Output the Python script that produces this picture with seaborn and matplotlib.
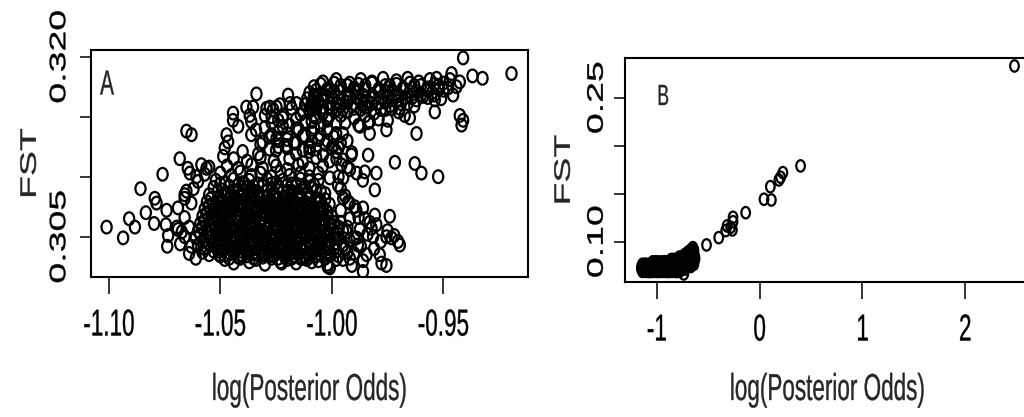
import matplotlib
matplotlib.use("Agg")
import matplotlib.pyplot as plt
import pandas as pd
import seaborn as sns
from matplotlib.path import Path
from matplotlib.transforms import Affine2D
from matplotlib.patheffects import AbstractPathEffect

# ---------------- Panel A data: (log posterior odds, FST) ----------------
a_left = [(-1.1010, .3058), (-1.0936, .3049), (-1.0909, .3065), (-1.0883, .3058), (-1.0858, .3090),
          (-1.0834, .3070), (-1.0794, .3082), (-1.0786, .3078), (-1.0797, .3061), (-1.0759, .3102),
          (-1.0741, .3072), (-1.0744, .3060), (-1.0734, .3051), (-1.0738, .3042), (-1.0682, .3115),
          (-1.0652, .3138), (-1.0629, .3135), (-1.0690, .3074), (-1.0695, .3058), (-1.0673, .3054),
          (-1.0660, .3082), (-1.0652, .3088), (-1.0646, .3107), (-1.0637, .3103), (-1.0607, .3100),
          (-1.0585, .3110), (-1.0562, .3107), (-1.066, .3085), (-1.063, .3078), (-1.066, .3066),
          (-1.064, .3058), (-1.066, .3050), (-1.063, .3042), (-1.068, .3044), (-1.064, .3036),
          (-1.061, .3032), (-1.069, .3056), (-1.062, .3090), (-1.060, .3096), (-1.057, .3102),
          (-1.055, .3108)]

a_blob = [
    (-1.048, .3031), (-1.044, .3028), (-1.041, .3032), (-1.037, .3029), (-1.034, .3031), (-1.030, .3027),
    (-1.027, .3032), (-1.023, .3029), (-1.020, .3031), (-1.016, .3028), (-1.013, .3032), (-1.009, .3029),
    (-1.006, .3030), (-1.002, .3027), (-0.998, .3031),
    (-1.058, .3037), (-1.055, .3035), (-1.051, .3038), (-1.047, .3035), (-1.044, .3037), (-1.040, .3034),
    (-1.037, .3038), (-1.033, .3035), (-1.030, .3037), (-1.026, .3034), (-1.022, .3038), (-1.019, .3036),
    (-1.015, .3037), (-1.012, .3034), (-1.008, .3038), (-1.005, .3035), (-1.001, .3037), (-0.997, .3034),
    (-0.993, .3037),
    (-1.060, .3043), (-1.056, .3041), (-1.053, .3044), (-1.049, .3041), (-1.046, .3043), (-1.042, .3040),
    (-1.039, .3044), (-1.035, .3041), (-1.031, .3043), (-1.028, .3040), (-1.024, .3044), (-1.021, .3042),
    (-1.017, .3043), (-1.014, .3040), (-1.010, .3044), (-1.007, .3041), (-1.003, .3043), (-0.999, .3040),
    (-0.995, .3043),
    (-1.061, .3049), (-1.057, .3047), (-1.054, .3050), (-1.050, .3047), (-1.047, .3049), (-1.043, .3046),
    (-1.040, .3050), (-1.036, .3047), (-1.033, .3049), (-1.029, .3046), (-1.026, .3050), (-1.022, .3048),
    (-1.018, .3049), (-1.015, .3046), (-1.011, .3050), (-1.008, .3047), (-1.004, .3049), (-1.001, .3046),
    (-0.997, .3049), (-0.992, .3047),
    (-1.060, .3055), (-1.056, .3053), (-1.052, .3056), (-1.049, .3053), (-1.045, .3055), (-1.042, .3052),
    (-1.038, .3056), (-1.035, .3053), (-1.031, .3055), (-1.027, .3052), (-1.024, .3056), (-1.020, .3054),
    (-1.017, .3055), (-1.013, .3052), (-1.010, .3056), (-1.006, .3053), (-1.003, .3055), (-0.999, .3052),
    (-0.995, .3055),
    (-1.059, .3061), (-1.055, .3059), (-1.051, .3062), (-1.048, .3059), (-1.044, .3061), (-1.041, .3058),
    (-1.037, .3062), (-1.034, .3059), (-1.030, .3061), (-1.026, .3058), (-1.023, .3062), (-1.019, .3060),
    (-1.016, .3061), (-1.012, .3058), (-1.009, .3062), (-1.005, .3059), (-1.001, .3061), (-0.997, .3058),
    (-1.058, .3067), (-1.054, .3065), (-1.050, .3068), (-1.047, .3065), (-1.043, .3067), (-1.039, .3064),
    (-1.036, .3068), (-1.032, .3065), (-1.029, .3067), (-1.025, .3064), (-1.022, .3068), (-1.018, .3066),
    (-1.015, .3067), (-1.011, .3064), (-1.007, .3068), (-1.004, .3065), (-1.000, .3067),
    (-1.057, .3073), (-1.053, .3071), (-1.049, .3074), (-1.046, .3071), (-1.042, .3073), (-1.038, .3070),
    (-1.035, .3074), (-1.031, .3071), (-1.028, .3073), (-1.024, .3070), (-1.021, .3074), (-1.017, .3072),
    (-1.013, .3073), (-1.010, .3070), (-1.006, .3074), (-1.002, .3071),
    (-1.056, .3079), (-1.052, .3077), (-1.049, .3080), (-1.045, .3077), (-1.041, .3079), (-1.038, .3076),
    (-1.034, .3080), (-1.030, .3077), (-1.027, .3079), (-1.023, .3076), (-1.020, .3080), (-1.016, .3078),
    (-1.012, .3079), (-1.009, .3076), (-1.005, .3080), (-1.001, .3077),
    (-1.055, .3085), (-1.051, .3083), (-1.047, .3086), (-1.044, .3083), (-1.040, .3085), (-1.036, .3082),
    (-1.033, .3086), (-1.029, .3083), (-1.026, .3085), (-1.022, .3082), (-1.018, .3086), (-1.015, .3084),
    (-1.011, .3085), (-1.007, .3082), (-1.003, .3086),
    (-1.053, .3091), (-1.049, .3089), (-1.046, .3092), (-1.042, .3089), (-1.038, .3091), (-1.035, .3088),
    (-1.031, .3092), (-1.027, .3089), (-1.024, .3091), (-1.020, .3088), (-1.016, .3092), (-1.013, .3090),
    (-1.009, .3091), (-1.005, .3088),
    (-1.052, .3097), (-1.048, .3095), (-1.044, .3098), (-1.040, .3095), (-1.037, .3097), (-1.033, .3094),
    (-1.029, .3098), (-1.025, .3095), (-1.022, .3097), (-1.018, .3094), (-1.014, .3098), (-1.010, .3096),
    (-1.006, .3097),
    (-1.050, .3103), (-1.045, .3101), (-1.041, .3104), (-1.036, .3101), (-1.032, .3103), (-1.027, .3100),
    (-1.023, .3104), (-1.019, .3101), (-1.014, .3103), (-1.010, .3100), (-1.006, .3103),
    (-1.047, .3109), (-1.042, .3107), (-1.036, .3110), (-1.031, .3107), (-1.025, .3109), (-1.020, .3106),
    (-1.015, .3110), (-1.010, .3107), (-1.004, .3109),
    (-1.044, .3115), (-1.038, .3113), (-1.032, .3116), (-1.026, .3113), (-1.019, .3115), (-1.013, .3112),
    (-1.007, .3116), (-1.001, .3113),
    (-1.040, .3121), (-1.033, .3119), (-1.025, .3122), (-1.016, .3119), (-1.010, .3121), (-1.004, .3118),
    (-0.998, .3121),
    (-1.0018, .3025), (-1.0112, .3031), (-1.018, .3032), (-1.0225, .3028)]

a_blob_fill = [
    (-1.050, .3034), (-1.046, .3032), (-1.042, .3033), (-1.038, .3034), (-1.035, .3032), (-1.031, .3033),
    (-1.028, .3034), (-1.024, .3032), (-1.021, .3033), (-1.017, .3034), (-1.014, .3032), (-1.010, .3033),
    (-1.007, .3034), (-1.003, .3032),
    (-1.057, .3040), (-1.053, .3038), (-1.049, .3039), (-1.045, .3040), (-1.041, .3038), (-1.038, .3039),
    (-1.034, .3040), (-1.031, .3038), (-1.027, .3039), (-1.024, .3040), (-1.020, .3038), (-1.016, .3039),
    (-1.013, .3040), (-1.009, .3038), (-1.006, .3039), (-1.002, .3040), (-0.998, .3038),
    (-1.058, .3046), (-1.055, .3044), (-1.051, .3045), (-1.048, .3046), (-1.044, .3044), (-1.041, .3045),
    (-1.037, .3046), (-1.033, .3044), (-1.030, .3045), (-1.027, .3046), (-1.023, .3044), (-1.019, .3045),
    (-1.016, .3046), (-1.012, .3044), (-1.009, .3045), (-1.005, .3046), (-1.002, .3044), (-0.998, .3045),
    (-1.059, .3052), (-1.055, .3050), (-1.052, .3051), (-1.048, .3052), (-1.045, .3050), (-1.041, .3051),
    (-1.038, .3052), (-1.034, .3050), (-1.031, .3051), (-1.028, .3052), (-1.025, .3050), (-1.021, .3051),
    (-1.019, .3052), (-1.016, .3050), (-1.012, .3051), (-1.009, .3052), (-1.005, .3050), (-1.002, .3051),
    (-0.997, .3052),
    (-1.058, .3058), (-1.054, .3056), (-1.050, .3057), (-1.047, .3058), (-1.043, .3056), (-1.040, .3057),
    (-1.036, .3058), (-1.033, .3056), (-1.029, .3057), (-1.025, .3058), (-1.022, .3056), (-1.018, .3057),
    (-1.015, .3058), (-1.011, .3056), (-1.008, .3057), (-1.004, .3058), (-1.001, .3056), (-0.997, .3057),
    (-1.057, .3064), (-1.053, .3062), (-1.049, .3063), (-1.046, .3064), (-1.042, .3062), (-1.039, .3063),
    (-1.035, .3064), (-1.032, .3062), (-1.028, .3063), (-1.024, .3064), (-1.021, .3062), (-1.017, .3063),
    (-1.014, .3064), (-1.010, .3062), (-1.007, .3063), (-1.003, .3064), (-0.999, .3062),
    (-1.056, .3070), (-1.052, .3068), (-1.048, .3069), (-1.045, .3070), (-1.041, .3068), (-1.037, .3069),
    (-1.034, .3070), (-1.030, .3068), (-1.027, .3069), (-1.023, .3070), (-1.020, .3068), (-1.016, .3069),
    (-1.013, .3070), (-1.009, .3068), (-1.005, .3069), (-1.002, .3070),
    (-1.055, .3076), (-1.051, .3074), (-1.047, .3075), (-1.044, .3076), (-1.040, .3074), (-1.036, .3075),
    (-1.033, .3076), (-1.029, .3074), (-1.026, .3075), (-1.022, .3076), (-1.019, .3074), (-1.015, .3075),
    (-1.011, .3076), (-1.008, .3074), (-1.004, .3075),
    (-1.054, .3082), (-1.050, .3080), (-1.046, .3081), (-1.043, .3082), (-1.039, .3080), (-1.035, .3081),
    (-1.032, .3082), (-1.028, .3080), (-1.025, .3081), (-1.021, .3082), (-1.017, .3080), (-1.014, .3081),
    (-1.010, .3082), (-1.006, .3080), (-1.003, .3081),
    (-1.051, .3088), (-1.048, .3086), (-1.044, .3087), (-1.040, .3088), (-1.037, .3086), (-1.033, .3087),
    (-1.029, .3088), (-1.026, .3086), (-1.022, .3087), (-1.018, .3088), (-1.015, .3086), (-1.011, .3087),
    (-1.007, .3088),
    (-1.050, .3094), (-1.046, .3092), (-1.042, .3093), (-1.039, .3094), (-1.035, .3092), (-1.031, .3093),
    (-1.027, .3094), (-1.024, .3092), (-1.020, .3093), (-1.016, .3094), (-1.012, .3092), (-1.008, .3093)]

a_blob_core = [
    (-1.0505, .3035), (-1.0455, .3036), (-1.0405, .3035), (-1.0355, .3036), (-1.0305, .3035), (-1.0255, .3036),
    (-1.0205, .3035), (-1.0155, .3036), (-1.0105, .3035), (-1.0055, .3036), (-1.0005, .3035),
    (-1.0515, .3041), (-1.0465, .3042), (-1.0415, .3041), (-1.0365, .3042), (-1.0315, .3041), (-1.0265, .3042),
    (-1.0215, .3041), (-1.0165, .3042), (-1.0115, .3041), (-1.0065, .3042), (-1.0015, .3041),
    (-1.0505, .3047), (-1.0455, .3048), (-1.0405, .3047), (-1.0355, .3048), (-1.0305, .3047), (-1.0255, .3048),
    (-1.0205, .3047), (-1.0155, .3048), (-1.0105, .3047), (-1.0055, .3048), (-1.0005, .3047),
    (-1.0515, .3053), (-1.0465, .3054), (-1.0415, .3053), (-1.0365, .3054), (-1.0315, .3053), (-1.0265, .3054),
    (-1.0215, .3053), (-1.0165, .3054), (-1.0115, .3053), (-1.0065, .3054), (-1.0015, .3053),
    (-1.0505, .3059), (-1.0455, .3060), (-1.0405, .3059), (-1.0355, .3060), (-1.0305, .3059), (-1.0255, .3060),
    (-1.0205, .3059), (-1.0155, .3060), (-1.0105, .3059), (-1.0055, .3060), (-1.0005, .3059),
    (-1.0515, .3065), (-1.0465, .3066), (-1.0415, .3065), (-1.0365, .3066), (-1.0315, .3065), (-1.0265, .3066),
    (-1.0215, .3065), (-1.0165, .3066), (-1.0115, .3065), (-1.0065, .3066), (-1.0015, .3065),
    (-1.0505, .3071), (-1.0455, .3072), (-1.0405, .3071), (-1.0355, .3072), (-1.0305, .3071), (-1.0255, .3072),
    (-1.0205, .3071), (-1.0155, .3072), (-1.0105, .3071), (-1.0055, .3072),
    (-1.0465, .3078), (-1.0415, .3077), (-1.0365, .3078), (-1.0315, .3077), (-1.0265, .3078),
    (-1.0215, .3077), (-1.0165, .3078), (-1.0115, .3077), (-1.0065, .3078),
    (-1.0455, .3084), (-1.0405, .3083), (-1.0355, .3084), (-1.0305, .3083), (-1.0255, .3084),
    (-1.0205, .3083), (-1.0155, .3084), (-1.0105, .3083)]

a_mid = [(-1.032, .3127), (-1.024, .3125), (-1.017, .3128), (-1.010, .3125), (-1.003, .3127), (-0.997, .3124),
         (-1.028, .3133), (-1.020, .3131), (-1.013, .3134), (-1.006, .3131), (-0.999, .3133), (-0.993, .3130),
         (-1.034, .3139), (-1.024, .3137), (-1.016, .3140), (-1.009, .3137), (-1.002, .3139), (-0.995, .3136),
         (-1.027, .3145), (-1.019, .3143), (-1.012, .3146), (-1.005, .3143), (-0.998, .3145),
         (-1.030, .3151), (-1.022, .3149), (-1.014, .3152), (-1.007, .3149), (-1.001, .3151),
         (-1.018, .3157), (-1.010, .3155), (-1.004, .3158),
         (-1.028, .3123), (-1.020, .3124), (-1.013, .3122), (-1.007, .3123), (-1.000, .3124),
         (-1.031, .3129), (-1.024, .3130), (-1.016, .3128), (-1.009, .3129), (-1.002, .3130), (-0.996, .3128),
         (-1.027, .3135), (-1.020, .3136), (-1.012, .3134), (-1.005, .3135), (-0.998, .3136),
         (-1.030, .3141), (-1.022, .3142), (-1.015, .3140), (-1.008, .3141),
         (-1.024, .3147), (-1.016, .3148), (-1.009, .3146), (-1.002, .3147),
         (-1.0293, .3157), (-1.0270, .3150), (-1.0248, .3158), (-1.0218, .3151), (-1.0196, .3168),
         (-1.0158, .3161), (-1.0084, .3160), (-1.0069, .3168), (-1.0248, .3132), (-1.0203, .3126),
         (-1.0099, .3124),
         (-1.0338, .3169), (-1.0383, .3158), (-1.0353, .3158), (-1.0368, .3151), (-1.0361, .3146),
         (-1.0361, .3135), (-1.0443, .3153), (-1.0443, .3147), (-1.0420, .3142), (-1.0472, .3135),
         (-1.0465, .3129), (-1.0480, .3124), (-1.0487, .3117), (-1.0278, .3158), (-1.0263, .3156),
         (-1.0233, .3160), (-1.0188, .3161), (-1.0128, .3154), (-1.0091, .3158)]

a_band = [(-1.004, .3179), (-0.998, .3181), (-0.992, .3178), (-0.987, .3181), (-0.982, .3179), (-0.977, .3182),
          (-0.971, .3180), (-0.966, .3182), (-0.961, .3179), (-0.956, .3181), (-0.950, .3178), (-0.947, .3181),
          (-1.008, .3175), (-1.002, .3173), (-0.996, .3176), (-0.990, .3174), (-0.985, .3176), (-0.979, .3173),
          (-0.974, .3176), (-0.968, .3174), (-0.963, .3176), (-0.957, .3174), (-0.952, .3176),
          (-1.010, .3170), (-1.004, .3168), (-0.999, .3171), (-0.993, .3169), (-0.988, .3171), (-0.982, .3168),
          (-0.976, .3171), (-0.971, .3169), (-0.965, .3171), (-0.960, .3168), (-0.955, .3170), (-0.950, .3172),
          (-1.011, .3165), (-1.006, .3163), (-1.000, .3166), (-0.995, .3164), (-0.989, .3166), (-0.984, .3163),
          (-0.978, .3166), (-0.973, .3164), (-0.967, .3166), (-0.962, .3164), (-0.957, .3166), (-0.951, .3165),
          (-1.012, .3160), (-1.007, .3158), (-1.001, .3161), (-0.996, .3159), (-0.990, .3161), (-0.985, .3158),
          (-0.979, .3161), (-0.974, .3159), (-0.969, .3161), (-0.963, .3159),
          (-1.010, .3155), (-1.004, .3153), (-0.998, .3156), (-0.993, .3154), (-0.987, .3156), (-0.981, .3153),
          (-0.976, .3156), (-0.970, .3154),
          (-1.008, .3150), (-1.002, .3148), (-0.996, .3151), (-0.990, .3149), (-0.985, .3151), (-0.979, .3148),
          (-0.994, .3145), (-0.988, .3143), (-0.983, .3146),
          (-1.005, .3177), (-0.999, .3178), (-0.993, .3176), (-0.988, .3177), (-0.982, .3178), (-0.976, .3176),
          (-0.971, .3177), (-0.965, .3178), (-0.960, .3176), (-0.954, .3177),
          (-1.007, .3172), (-1.001, .3173), (-0.996, .3171), (-0.990, .3172), (-0.985, .3173), (-0.979, .3171),
          (-0.973, .3172), (-0.968, .3173), (-0.962, .3171), (-0.957, .3172), (-0.952, .3173),
          (-1.008, .3167), (-1.003, .3168), (-0.997, .3166), (-0.992, .3167), (-0.986, .3168), (-0.981, .3166),
          (-0.975, .3167), (-0.970, .3168), (-0.964, .3166), (-0.959, .3167), (-0.954, .3168),
          (-1.009, .3162), (-1.004, .3163), (-0.998, .3161), (-0.993, .3162), (-0.987, .3163), (-0.982, .3161),
          (-0.976, .3162), (-0.971, .3163), (-0.966, .3161),
          (-1.007, .3157), (-1.001, .3158), (-0.995, .3156), (-0.990, .3157), (-0.984, .3158), (-0.978, .3156),
          (-0.973, .3157),
          (-0.9411, .3199), (-0.9369, .3184), (-0.9324, .3182), (-0.9194, .3186), (-0.9463, .3186),
          (-0.9426, .3179), (-0.9441, .3175), (-0.9456, .3168), (-0.9478, .3174), (-0.9426, .3151),
          (-0.9411, .3147), (-0.9418, .3143), (-0.9538, .3154), (-0.9530, .3182), (-0.9538, .3164)]

a_right = [(-0.9830, .3136), (-0.9837, .3118), (-0.9717, .3112), (-0.9620, .3136), (-0.9628, .3111),
           (-0.9598, .3103), (-0.9523, .3100), (-0.9800, .3103), (-0.9807, .3089), (-0.9861, .3097),
           (-0.9852, .3104), (-0.9889, .3103), (-0.9912, .3118), (-0.9919, .3106), (-0.9749, .3147),
           (-0.9755, .3139), (-0.9994, .3126), (-0.9979, .3115), (-0.9957, .3110), (-0.9949, .3099),
           (-1.0009, .3099), (-0.9972, .3093), (-0.9927, .3079), (-0.9897, .3075), (-0.9949, .3082),
           (-0.996, .3090), (-0.994, .3084), (-0.997, .3100), (-0.993, .3108), (-0.995, .3114),
           (-0.991, .3120), (-0.9695, .3157), (-0.9650, .3149), (-0.9673, .3151), (-0.9874, .3142),
           (-0.9837, .3145),
           (-0.9860, .3074), (-0.9852, .3065), (-0.9807, .3068), (-0.9800, .3060), (-0.9815, .3050),
           (-0.9740, .3067), (-0.9732, .3049), (-0.9703, .3046), (-0.9695, .3043), (-0.9755, .3050),
           (-0.9785, .3035), (-0.9777, .3028), (-0.9755, .3026), (-0.9844, .3035), (-0.9860, .3021),
           (-0.9822, .3057), (-0.9874, .3056), (-0.9889, .3049), (-0.9919, .3065), (-0.9934, .3054),
           (-0.9949, .3043), (-1.0009, .3024), (-0.9919, .3032), (-0.9883, .3043),
           (-0.996, .3062), (-0.993, .3058), (-0.990, .3049), (-0.994, .3040), (-0.990, .3036),
           (-0.987, .3042), (-0.986, .3030), (-0.991, .3026), (-0.995, .3031), (-0.988, .3066),
           (-0.983, .3062), (-0.984, .3052), (-0.978, .3046), (-0.981, .3040), (-0.975, .3055),
           (-0.972, .3051), (-0.989, .3072), (-0.996, .3072), (-0.992, .3078)]

# ---------------- Panel B data ----------------
b_blob = [(-1.14, .0690), (-1.11, .0691), (-1.08, .0689), (-1.05, .0690), (-1.02, .0691), (-0.99, .0689),
          (-0.96, .0690), (-0.93, .0691), (-0.90, .0689), (-0.87, .0690), (-0.84, .0691), (-0.81, .0689),
          (-0.78, .0690),
          (-1.15, .0715), (-1.12, .0716), (-1.09, .0714), (-1.06, .0715), (-1.03, .0716), (-1.00, .0714),
          (-0.97, .0715), (-0.94, .0716), (-0.91, .0714), (-0.88, .0715), (-0.85, .0716), (-0.82, .0714),
          (-0.79, .0715), (-0.76, .0716), (-0.73, .0714),
          (-1.15, .0740), (-1.12, .0741), (-1.09, .0739), (-1.06, .0740), (-1.03, .0741), (-1.00, .0739),
          (-0.97, .0740), (-0.94, .0741), (-0.91, .0739), (-0.88, .0740), (-0.85, .0741), (-0.82, .0739),
          (-0.79, .0740), (-0.76, .0741), (-0.73, .0739), (-0.70, .0740), (-0.67, .0741),
          (-1.14, .0765), (-1.11, .0766), (-1.08, .0764), (-1.05, .0765), (-1.02, .0766), (-0.99, .0764),
          (-0.96, .0765), (-0.93, .0766), (-0.90, .0764), (-0.87, .0765), (-0.84, .0766), (-0.81, .0764),
          (-0.78, .0765), (-0.75, .0766), (-0.72, .0764), (-0.69, .0765), (-0.66, .0766), (-0.64, .0764),
          (-1.04, .0790), (-1.01, .0791), (-0.98, .0789), (-0.95, .0790), (-0.92, .0791), (-0.89, .0789),
          (-0.86, .0790), (-0.83, .0791), (-0.80, .0789), (-0.77, .0790), (-0.74, .0791), (-0.71, .0789),
          (-0.68, .0790), (-0.65, .0791),
          (-0.86, .0815), (-0.83, .0816), (-0.80, .0814), (-0.77, .0815), (-0.74, .0816), (-0.71, .0814),
          (-0.68, .0815), (-0.65, .0816), (-0.63, .0814),
          (-0.78, .0840), (-0.75, .0841), (-0.72, .0839), (-0.69, .0840), (-0.66, .0841), (-0.63, .0839),
          (-0.73, .0865), (-0.70, .0866), (-0.67, .0864), (-0.64, .0865),
          (-0.70, .0890), (-0.67, .0891), (-0.64, .0889),
          (-0.67, .0915), (-0.64, .0914),
          (-0.65, .0938)]

b_tail = [(-0.738, .0664), (-0.517, .0966), (-0.398, .1042), (-0.330, .1115), (-0.317, .1164),
          (-0.282, .1150), (-0.259, .1208), (-0.259, .1254), (-0.265, .1122), (-0.136, .1302),
          (0.042, .1442), (0.104, .1573), (0.114, .1434), (0.187, .1643), (0.204, .1671),
          (0.226, .1719), (0.398, .1789), (2.479, .2830)]

a_xticks = [-1.10, -1.05, -1.00, -0.95]
a_xticklabels = ["-1.10", "-1.05", "-1.00", "-0.95"]
a_yticks = [0.305, 0.310, 0.315, 0.320]
a_yticklabels = ["0.305", "", "", "0.320"]
b_xticks = [-1, 0, 1, 2]
b_xticklabels = ["-1", "0", "1", "2"]
b_yticks = [0.10, 0.15, 0.20, 0.25]
b_yticklabels = ["0.10", "", "", "0.25"]


class Squeeze(AbstractPathEffect):
    """Draw text glyphs compressed horizontally about their centre (slightly emboldened)."""
    def __init__(self, sx=0.6, stroke=0.25):
        super().__init__()
        self.sx = sx
        self.stroke = stroke

    def draw_path(self, renderer, gc, tpath, affine, rgbFace=None):
        ext = tpath.get_extents(affine)
        cx = 0.5 * (ext.x0 + ext.x1)
        aff = affine + Affine2D().translate(-cx, 0).scale(self.sx, 1.0).translate(cx, 0)
        gc0 = renderer.new_gc()
        gc0.copy_properties(gc)
        gc0.set_linewidth(self.stroke)
        if rgbFace is not None:
            gc0.set_foreground(rgbFace)
        renderer.draw_path(gc0, tpath, aff, rgbFace)
        gc0.restore()


sns.set_theme(style="white")
plt.rcParams["font.family"] = ["Liberation Sans", "DejaVu Sans"]
plt.rcParams["axes.unicode_minus"] = False

W, H = 1024, 417
fig = plt.figure(figsize=(W / 100, H / 100), dpi=100, facecolor="white")
axA = fig.add_axes([91 / W, 1 - 277 / H, 437 / W, 227 / H])
axB = fig.add_axes([625 / W, 1 - 282 / H, 405 / W, 224 / H])

circ = Path.unit_circle()
ellA = Path(Affine2D().scale(0.8, 1.0).transform(circ.vertices), circ.codes)
ellB = Path(Affine2D().scale(0.75, 1.0).transform(circ.vertices), circ.codes)

dfA = pd.DataFrame(a_left + a_blob + a_blob_fill + a_blob_core + a_mid + a_band + a_right,
                   columns=["lpo", "fst"])
dfB = pd.DataFrame(b_blob + b_tail, columns=["lpo", "fst"])

sns.scatterplot(data=dfA, x="lpo", y="fst", ax=axA, marker=ellA, s=84,
                facecolor="none", edgecolor="black", linewidth=1.6, legend=False)
sns.scatterplot(data=dfB, x="lpo", y="fst", ax=axB, marker=ellB, s=68,
                facecolor="none", edgecolor="black", linewidth=1.6, legend=False)

FS = 27
sq = [Squeeze(0.6, 0.25)]

axA.set_xlim(-1.108, -0.912)
axA.set_ylim(0.30164, 0.32056)
axB.set_xlim(-1.31, 2.63)
axB.set_ylim(0.058, 0.2913)

for ax, xt, xtl, yt, ytl, ypad in [(axA, a_xticks, a_xticklabels, a_yticks, a_yticklabels, 14),
                                   (axB, b_xticks, b_xticklabels, b_yticks, b_yticklabels, 11.5)]:
    ax.set_xticks(xt)
    ax.set_xticklabels(xtl)
    ax.set_yticks(yt)
    ax.set_yticklabels(ytl)
    ax.tick_params(axis="x", direction="out", length=12, width=1.1, pad=10,
                   labelsize=FS, colors="black", bottom=True)
    ax.tick_params(axis="y", direction="out", length=8, width=1.1, pad=ypad,
                   labelsize=FS, colors="black", left=True, labelrotation=90)
    for lbl in ax.get_yticklabels():
        lbl.set_ha("center")
        lbl.set_va("center")
    for lbl in ax.get_xticklabels() + ax.get_yticklabels():
        lbl.set_path_effects(sq)
    for sp in ax.spines.values():
        sp.set_visible(True)
        sp.set_color("black")
        sp.set_linewidth(1.5)
    ax.set_facecolor("white")
    ax.grid(False)

axA.set_xlabel("log(Posterior Odds)", fontsize=FS, path_effects=sq)
axA.xaxis.set_label_coords(0.5, (277 - 372) / 227)
axB.set_xlabel("log(Posterior Odds)", fontsize=FS, path_effects=sq)
axB.xaxis.set_label_coords(0.5, (282 - 372) / 224)

axA.set_ylabel("FST", fontsize=FS, path_effects=sq)
axA.yaxis.set_label_coords((49 - 91) / 437, 0.5)
axB.set_ylabel("FST", fontsize=FS, path_effects=sq)
axB.yaxis.set_label_coords((583 - 625) / 405, 0.5)

axA.text((107 - 91) / 437, 1 - (85 - 50) / 227, "A", transform=axA.transAxes,
         fontsize=25, ha="center", va="center", path_effects=sq)
axB.text((663 - 625) / 405, 1 - (97 - 58) / 224, "B", transform=axB.transAxes,
         fontsize=21, ha="center", va="center", path_effects=sq)

fig.savefig("out.png", dpi=100, facecolor="white")
